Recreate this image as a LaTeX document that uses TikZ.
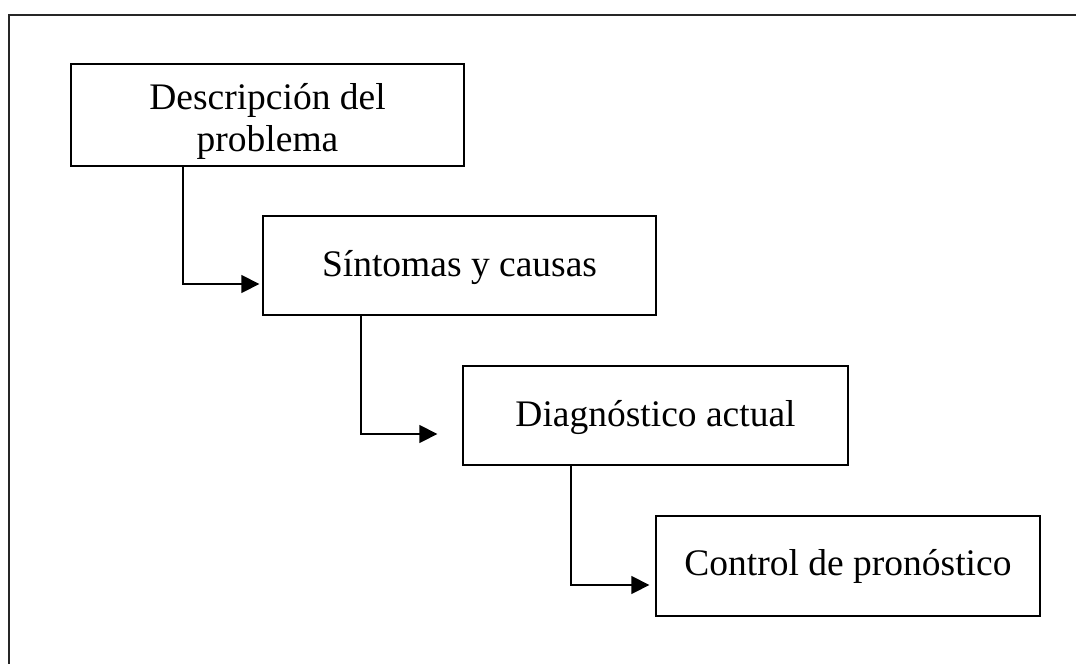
\documentclass[tikz,border=0pt]{standalone}
\usepackage{fontspec}
\setmainfont{Liberation Serif}
\usetikzlibrary{arrows.meta,calc}
\begin{document}
\begin{tikzpicture}[x=1pt,y=-1pt,
  box/.style={draw=black, line width=1.3pt, rectangle, inner sep=0pt, align=center,
    font=\fontsize{37.5}{42}\selectfont, text height=26pt, text depth=4pt},
  txt/.style={inner sep=0pt, align=center, font=\fontsize{37.5}{42}\selectfont},
  conn/.style={draw=black, line width=1.3pt, -{Triangle[length=18pt,width=18pt]}},
  frame/.style={draw=black!85, line width=1.6pt}]
\useasboundingbox (0,0) rectangle (1076,664);
\coordinate (ftop) at (1076,15);
\coordinate (fcorner) at (9,15);
\coordinate (fbot) at (9,664);
\draw[frame] (ftop) -- (fcorner) -- (fbot);
\node[box, minimum width=393pt, minimum height=102pt] (b1) at (267.5,115) {};
\node[txt] (b1t) at (267.5,121.5) {Descripción del\\problema};
\node[box, minimum width=393pt, minimum height=99pt] (b2) at (459.5,265.5) {Síntomas y causas};
\node[box, minimum width=385pt, minimum height=99pt] (b3) at (655.5,415.5) {Diagnóstico actual};
\node[box, minimum width=384pt, minimum height=100pt, text height=24pt, text depth=6pt] (b4) at (848,566) {Control de pronóstico};
\draw[conn] ($(b1.south west)+(112.5,0)$) |- ($(b2.west)+(-3,18.5)$);
\draw[conn] ($(b2.south west)+(98.5,0)$) |- ($(b3.west)+(-25,18.5)$);
\draw[conn] ($(b3.south west)+(108.5,0)$) |- ($(b4.west)+(-6,19)$);
\end{tikzpicture}
\end{document}
